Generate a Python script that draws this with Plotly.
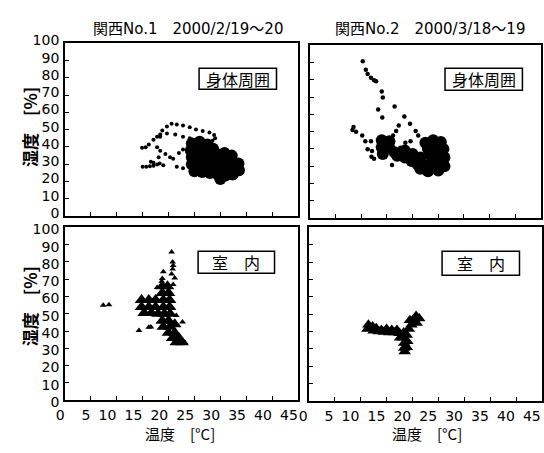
import plotly.graph_objects as go

# ---------------- data (temperature [°C], humidity [%]) ----------------
# 関西No.1 身体周囲 : sparse dots (loops / trails)
body1_sparse_T = [15.0, 15.7, 16.4, 17.1, 17.8, 18.3,
                  14.9, 15.6, 16.2, 17.1, 17.8, 18.4,
                  18.8, 19.7, 20.6, 21.6, 22.8, 24.1, 25.3, 26.6, 27.9, 28.8, 29.0, 28.5,
                  18.4, 19.7, 21.3, 22.8, 24.1, 24.7,
                  17.8, 18.4, 19.4, 20.3, 20.9, 18.1, 16.6, 17.1, 21.6, 22.8, 19.0, 22.0, 22.8]
body1_sparse_RH = [28.5, 28.6, 28.8, 29.2, 29.8, 30.5,
                   39.6, 39.9, 41.4, 44.2, 46.0, 47.3,
                   49.5, 51.8, 53.4, 53.0, 52.5, 51.4, 50.2, 49.2, 48.4, 46.9, 45.1, 43.6,
                   46.0, 47.8, 47.3, 46.0, 45.1, 44.2,
                   39.9, 37.8, 35.9, 34.1, 33.2, 34.1, 31.4, 30.8, 28.6, 27.7, 29.4, 36.5, 38.5]
# 関西No.1 身体周囲 : dense cloud
body1_dense_T = [24.5, 26.0, 27.5, 24.3, 25.8, 27.3, 24.5, 26.0, 27.5, 24.5, 26.0, 27.5,
                 25.0, 26.5, 28.0, 29.3, 30.8, 32.2, 29.3, 30.8, 32.2, 33.5, 29.3, 30.8,
                 32.2, 33.6, 29.5, 31.0, 32.4, 28.6, 28.3, 30.0]
body1_dense_RH = [42.0, 43.0, 41.5, 38.0, 38.0, 37.5, 34.0, 34.0, 33.5, 30.0, 30.0, 29.5,
                  26.0, 25.5, 25.0, 36.0, 36.5, 35.0, 32.0, 32.0, 31.5, 30.5, 28.0, 28.0,
                  27.5, 26.5, 24.0, 23.5, 24.0, 39.0, 30.5, 21.5]

# 関西No.2 身体周囲 : sparse dots
body2_sparse_T = [10.3, 10.9, 11.25, 11.9, 12.5, 12.9,
                  14.0, 14.2, 16.5, 13.3, 14.1, 18.4, 19.5, 17.3, 16.8, 16.2, 20.6, 21.1,
                  8.5, 8.3, 9.0, 10.2, 10.8, 11.9, 11.25, 12.1, 12.5, 12.0, 16.0, 17.6, 18.6, 19.6]
body2_sparse_RH = [90.8, 85.8, 83.4, 81.2, 79.7, 79.2,
                   73.3, 69.8, 64.6, 62.8, 58.2, 58.7, 54.5, 53.6, 50.3, 47.7, 50.3, 47.7,
                   52.7, 51.0, 49.9, 47.7, 44.4, 44.4, 39.8, 38.8, 34.3, 35.5, 30.6, 40.7, 43.5, 44.4]
# 関西No.2 身体周囲 : dense cloud
body2_dense_T = [14.0, 15.5, 14.0, 15.5, 16.5, 14.2,
                 17.0, 18.5, 19.8, 21.0, 18.5, 20.0, 21.5, 22.5, 21.5,
                 22.5, 24.0, 25.5, 23.0, 24.5, 26.0, 23.5, 25.0, 26.2, 24.0, 25.5, 26.2, 24.5, 23.0, 25.0]
body2_dense_RH = [45.0, 44.5, 41.0, 40.5, 38.0, 37.0,
                  36.0, 35.0, 33.0, 31.0, 39.0, 37.0, 35.0, 30.5, 28.5,
                  43.5, 45.0, 44.0, 40.0, 40.5, 40.0, 36.5, 36.5, 35.0, 33.0, 32.0, 30.0, 29.0, 27.0, 27.5]

# 関西No.1 室内 : sparse triangles
room1_sparse_T = [7.4, 8.5, 20.6, 20.8, 20.9, 20.8, 20.6, 19.0, 18.8, 18.7, 19.3, 17.8,
                  14.3, 16.2, 16.6, 22.7, 22.9, 23.2, 21.5, 21.2, 20.9]
room1_sparse_RH = [55.0, 55.3, 85.8, 80.0, 78.0, 76.0, 73.0, 74.4, 70.5, 68.9, 65.2, 65.2,
                   40.3, 42.2, 42.3, 45.3, 33.9, 33.2, 49.0, 70.7, 67.0]
# 関西No.1 室内 : dense cloud
room1_dense_T = [14.8, 16.2, 17.5, 14.8, 16.2, 17.5, 15.3, 16.7, 18.0,
                 18.8, 19.8, 18.8, 20.0, 19.0, 20.2, 19.0, 20.2, 19.2, 20.3,
                 18.8, 20.0, 19.0, 20.3, 21.2, 20.0, 21.2, 20.8, 22.0, 21.5, 22.6]
room1_dense_RH = [58.0, 58.0, 58.0, 54.0, 54.0, 54.0, 50.5, 50.5, 50.0,
                  66.0, 66.0, 62.0, 62.0, 58.0, 58.0, 54.0, 54.0, 50.0, 50.0,
                  46.0, 46.0, 42.5, 42.5, 44.0, 39.0, 39.0, 36.0, 36.0, 33.5, 33.5]

# 関西No.2 室内
room2_T = [11.5, 12.3, 12.5, 13.5, 14.5, 15.5, 16.5, 17.5, 18.3, 18.3, 18.4, 18.4,
           18.5, 19.3, 19.8, 20.8, 21.3, 20.7, 19.5, 11.3, 14.0, 16.0, 17.6,
           18.9, 19.0, 18.9, 13.0, 15.0, 17.0, 20.2]
room2_RH = [44.0, 43.0, 40.5, 40.0, 39.8, 39.5, 39.5, 39.0, 39.5, 36.5, 33.5, 30.5,
            28.5, 41.5, 44.0, 45.0, 47.5, 49.0, 46.5, 41.5, 41.0, 41.0, 36.5,
            38.0, 34.5, 31.0, 42.0, 41.5, 41.0, 47.0]

x_ticks = [0, 5, 10, 15, 20, 25, 30, 35, 40, 45]
y_ticks = [0, 10, 20, 30, 40, 50, 60, 70, 80, 90, 100]
titles = ["関西No.1　2000/2/19～20", "関西No.2　2000/3/18～19"]
box_labels = ["身体周囲", "身体周囲", "室　内", "室　内"]
x_title = "温度　[°C]"
y_title = "湿度　[%]"

# ---------------- figure ----------------
W, H = 544, 453
def px(x):
    return x / W
def py(y):
    return (H - y) / H

fig = go.Figure()

DIG = "DejaVu Sans, sans-serif"
JP = "Noto Sans CJK JP, sans-serif"

def add(xs, ys, ax, sym, size):
    fig.add_trace(go.Scatter(x=xs, y=ys, mode="markers", xaxis="x" + ax, yaxis="y" + ax,
                             marker=dict(symbol=sym, size=size, color="black", line=dict(width=0)),
                             showlegend=False, hoverinfo="skip"))

add(body1_dense_T, body1_dense_RH, "", "circle", 12)
add(body1_sparse_T, body1_sparse_RH, "", "circle", 4)
add(body2_dense_T, body2_dense_RH, "2", "circle", 12)
add(body2_sparse_T, body2_sparse_RH, "2", "circle", 4.5)
add(room1_dense_T, room1_dense_RH, "3", "triangle-up", 12)
add(room1_sparse_T, room1_sparse_RH, "3", "triangle-up", 6)
add(room2_T, room2_RH, "4", "triangle-up", 11)

# panel domains (pixel extents)
panels = {
    "": ((56, 294), (34, 215)),
    "2": ((306, 542), (36, 217)),
    "3": ((56, 294), (227, 408)),
    "4": ((305, 543), (227, 409)),
}
xshift = {"": 0, "2": 0, "3": 1, "4": 0}
yshift = {"": -3, "2": 0, "3": 2, "4": 0}
axis_common = dict(showline=True, mirror=True, linecolor="black", linewidth=1.5,
                   ticks="inside", ticklen=4, tickcolor="black", showgrid=False, zeroline=False,
                   tickfont=dict(family=DIG, size=14, color="black"))
layout = {}
for k, ((x0, x1), (y0, y1)) in panels.items():
    xa = dict(axis_common, domain=[px(x0), px(x1)], range=[0, 45], tickvals=x_ticks,
              anchor="y" + k, showticklabels=k in ("3", "4"), ticklabelshift=xshift[k],
              ticklabelstandoff=1, ticklabelposition="outside left", tickangle=0)
    ya = dict(axis_common, domain=[py(y1), py(y0)], range=[0, 100], tickvals=y_ticks,
              anchor="x" + k, showticklabels=k in ("", "3"), ticklabelstandoff=1,
              ticklabelshift=yshift[k])
    layout["xaxis" + k] = xa
    layout["yaxis" + k] = ya
fig.update_layout(**layout)

ann = []
shapes = []
# titles
for t, cx in zip(titles, (182, 429)):
    ann.append(dict(text=t, x=px(cx), y=py(19), xref="paper", yref="paper", showarrow=False,
                    xanchor="center", yanchor="middle",
                    font=dict(family="DejaVu Sans, Noto Sans CJK JP, sans-serif", size=15, color="black")))
# axis titles
for cx in (174, 426):
    ann.append(dict(text=x_title, x=px(cx), y=py(443), xref="paper", yref="paper", showarrow=False,
                    xanchor="center", yanchor="middle", font=dict(family=JP, size=15, color="black")))
for cy in (122, 310):
    ann.append(dict(text="<b>" + y_title + "</b>", x=px(20), y=py(cy), xref="paper", yref="paper",
                    showarrow=False, textangle=-90, xanchor="center", yanchor="middle",
                    font=dict(family=JP, size=17, color="black")))
# labelled boxes
boxes = [(193, 272, 60, 82), (444, 523, 60, 83), (192, 270, 252, 275), (441, 520, 252, 277)]
for lab, (x0, x1, y0, y1) in zip(box_labels, boxes):
    shapes.append(dict(type="rect", xref="paper", yref="paper", x0=px(x0), x1=px(x1),
                       y0=py(y1), y1=py(y0), line=dict(color="black", width=1.5), fillcolor="white"))
    ann.append(dict(text=lab, x=px((x0 + x1) / 2), y=py((y0 + y1) / 2), xref="paper", yref="paper",
                    showarrow=False, xanchor="center", yanchor="middle",
                    font=dict(family=JP, size=16, color="black")))

fig.update_layout(width=W, height=H, margin=dict(l=0, r=0, t=0, b=0),
                  paper_bgcolor="white", plot_bgcolor="white",
                  annotations=ann, shapes=shapes)

fig.write_html("out.html")
